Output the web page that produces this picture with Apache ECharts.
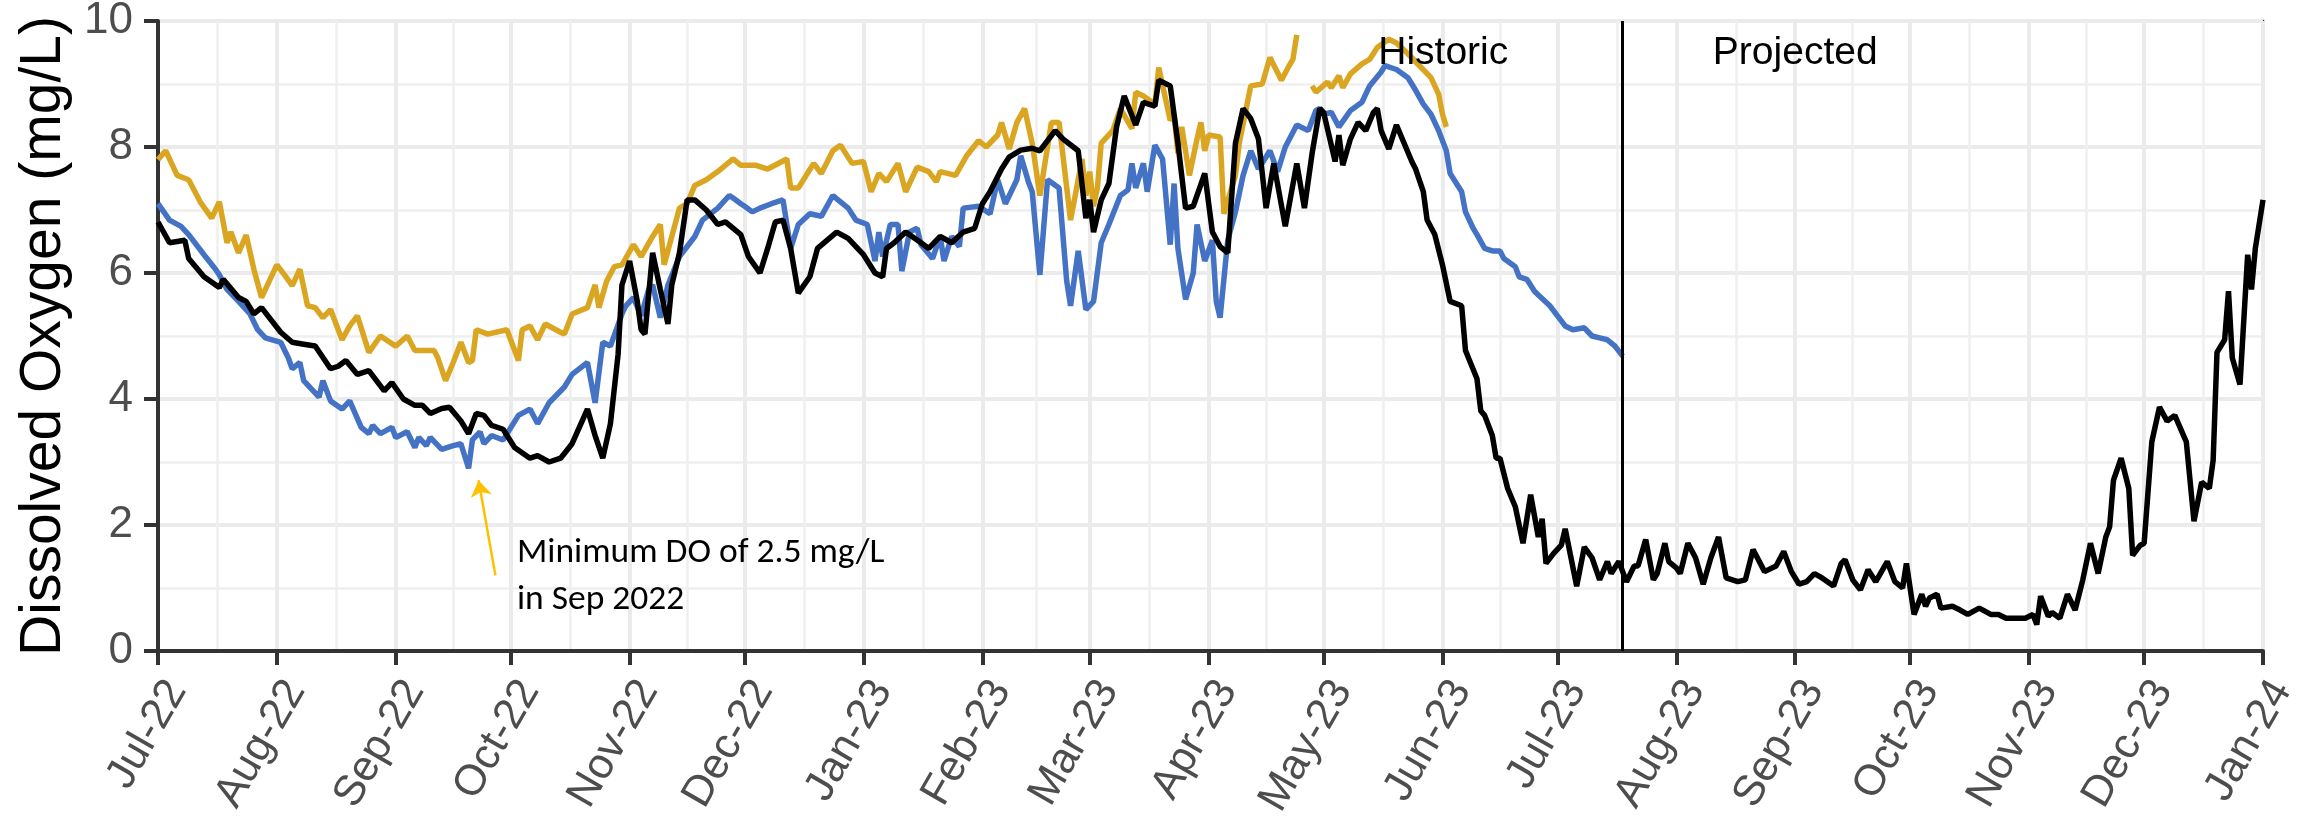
<!DOCTYPE html>
<html>
<head>
<meta charset="utf-8">
<script src="https://cdn.jsdelivr.net/npm/echarts@6/dist/echarts.min.js"></script>
<style>
  html, body { margin: 0; padding: 0; background: #fff; }
  #chart { width: 2315px; height: 823px; }
</style>
</head>
<body>
<div id="chart"></div>
<script>
  // day offsets are counted from 1 Jul 2022
  const black = [[0,6.81],[3,6.48],[7,6.52],[8,6.23],[12,5.94],[16,5.77],[17,5.9],[21,5.61],[23,5.55],[25,5.35],[27,5.45],
    [32,5.06],[35,4.9],[38,4.87],[41,4.84],[45,4.48],[47,4.52],[49,4.61],[52,4.39],[55,4.45],[59,4.13],[61,4.26],[64,4.0],
    [67,3.9],[69,3.9],[71,3.77],[74,3.85],[76,3.87],[79,3.65],[81,3.45],[83,3.77],[85,3.74],[87,3.58],[90,3.52],[93,3.23],
    [97,3.06],[99,3.1],[102,3.0],[105,3.06],[108,3.29],[112,3.84],[114,3.42],[116,3.06],[118,3.61],[120,4.71],[121,5.81],
    [123,6.19],[125,5.55],[126,5.1],[127,5.03],[129,6.32],[131,5.74],[133,5.19],[134,5.81],[136,6.32],[138,7.16],[140,7.16],
    [143,7.0],[146,6.77],[148,6.81],[152,6.61],[154,6.26],[157,6.0],[159,6.39],[161,6.81],[163,6.84],[165,6.39],[167,5.68],
    [170,5.94],[172,6.39],[177,6.65],[180,6.55],[184,6.29],[187,6.0],[189,5.94],[190,6.39],[192,6.48],[195,6.65],[199,6.48],
    [201,6.39],[204,6.58],[207,6.48],[210,6.65],[213,6.71],[215,7.1],[217,7.29],[220,7.65],[222,7.84],[225,7.95],[228,7.98],
    [230,7.94],[234,8.26],[236,8.13],[240,7.94],[242,6.87],[243,7.16],[244,6.65],[246,7.16],[248,7.42],[250,8.32],[252,8.81],
    [255,8.35],[257,8.71],[260,8.65],[261,9.06],[264,8.97],[266,8.06],[268,7.03],[270,7.06],[273,7.58],[275,6.65],[277,6.42],
    [279,6.32],[281,8.06],[283,8.61],[285,8.45],[287,8.13],[289,7.03],[291,7.74],[294,6.74],[297,7.74],[299,7.03],[301,7.9],
    [303,8.61],[304,8.55],[307,7.77],[308,8.19],[309,7.71],[311,8.13],[313,8.39],[315,8.26],[317,8.55],[318,8.61],[319,8.26],
    [321,7.97],[323,8.35],[325,8.06],[327,7.77],[328,7.65],[330,7.29],[331,6.84],[333,6.61],[335,6.13],[337,5.55],[340,5.48],
    [341,4.77],[344,4.32],[345,3.81],[346,3.74],[348,3.42],[349,3.06],[350,3.06],[352,2.58],[354,2.29],[356,1.71],[358,2.48],
    [360,1.81],[361,2.1],[362,1.39],[364,1.55],[366,1.68],[367,1.94],[370,1.03],[372,1.65],[374,1.48],[376,1.13],[378,1.42],
    [379,1.23],[381,1.42],[382,1.26],[383,1.1],[385,1.35],[386,1.35],[388,1.77],[390,1.13],[391,1.23],[393,1.71],[394,1.42],
    [396,1.32],[397,1.23],[399,1.71],[401,1.48],[403,1.06],[405,1.48],[407,1.81],[409,1.16],[412,1.1],[414,1.13],[416,1.61],
    [419,1.26],[422,1.35],[424,1.58],[426,1.26],[428,1.06],[430,1.1],[432,1.23],[434,1.16],[437,1.03],[439,1.39],[440,1.45],
    [442,1.13],[444,0.97],[446,1.29],[448,1.1],[451,1.42],[453,1.1],[455,1.0],[456,1.39],[458,0.58],[460,0.9],[461,0.71],
    [462,0.84],[464,0.9],[465,0.68],[468,0.71],[470,0.65],[472,0.58],[475,0.68],[478,0.58],[480,0.58],[482,0.52],[484,0.52],
    [487,0.52],[489,0.58],[490,0.42],[491,0.87],[493,0.55],[494,0.61],[496,0.52],[498,0.9],[500,0.65],[502,1.13],[504,1.71],
    [506,1.23],[508,1.81],[509,1.97],[510,2.71],[512,3.06],[514,2.58],[515,1.52],[517,1.68],[518,1.71],[520,3.32],[522,3.87],
    [524,3.65],[526,3.74],[529,3.32],[531,2.06],[533,2.68],[535,2.58],[536,3.03],[537,4.74],[539,4.94],[540,5.71],[541,4.65],
    [543,4.23],[545,6.29],[546,5.74],[547,6.39],[549,7.16]];

  const blue = [[0,7.1],[3,6.84],[6,6.74],[8,6.61],[12,6.29],[15,6.06],[16,5.97],[18,5.74],[21,5.55],[24,5.35],[26,5.1],
    [28,4.97],[32,4.9],[34,4.65],[35,4.48],[37,4.58],[38,4.29],[42,4.03],[43,4.29],[45,3.97],[48,3.84],[50,3.97],[53,3.55],
    [55,3.45],[56,3.58],[58,3.45],[61,3.55],[62,3.39],[65,3.48],[67,3.23],[68,3.39],[70,3.26],[71,3.39],[74,3.2],[77,3.26],
    [79,3.29],[81,2.9],[82,3.35],[84,3.48],[85,3.29],[87,3.42],[90,3.35],[94,3.74],[97,3.84],[99,3.61],[102,3.94],[106,4.19],
    [108,4.39],[112,4.58],[114,3.94],[116,4.9],[118,4.84],[121,5.35],[122,5.48],[124,5.61],[126,5.32],[128,5.74],[129,5.81],
    [131,5.29],[133,5.81],[136,6.26],[140,6.58],[142,6.84],[146,7.03],[149,7.23],[150,7.19],[152,7.1],[153,7.06],[155,6.97],
    [157,7.03],[160,7.1],[163,7.16],[165,6.39],[167,6.77],[170,6.94],[173,6.9],[176,7.23],[180,7.03],[182,6.84],[185,6.77],
    [187,6.19],[188,6.65],[189,6.26],[191,6.77],[193,6.77],[194,6.03],[196,6.65],[198,6.71],[199,6.45],[202,6.23],[204,6.58],
    [205,6.19],[207,6.58],[209,6.42],[210,7.03],[214,7.06],[217,6.94],[219,7.48],[221,7.1],[224,7.48],[225,7.86],[227,7.45],
    [228,7.29],[230,5.97],[232,7.48],[235,7.35],[237,5.87],[238,5.48],[240,6.35],[242,5.42],[244,5.55],[246,6.48],[248,6.77],
    [251,7.23],[253,7.32],[254,7.74],[255,7.35],[257,7.74],[258,7.29],[260,8.03],[262,7.81],[264,6.45],[265,7.42],[266,6.39],
    [268,5.58],[270,6.0],[271,6.77],[273,6.19],[275,6.52],[276,5.55],[277,5.29],[279,6.52],[281,6.97],[283,7.55],[285,7.94],
    [287,7.65],[290,7.94],[292,7.61],[294,8.0],[297,8.35],[300,8.26],[302,8.58],[303,8.61],[304,8.52],[306,8.55],[308,8.32],
    [311,8.58],[314,8.71],[316,8.97],[319,9.19],[320,9.29],[323,9.23],[326,9.1],[328,8.9],[330,8.68],[332,8.52],[334,8.26],
    [336,7.94],[337,7.58],[340,7.29],[341,6.97],[343,6.71],[344,6.61],[346,6.39],[348,6.35],[350,6.35],[351,6.23],[354,6.1],
    [355,5.94],[357,5.9],[359,5.71],[360,5.65],[363,5.48],[365,5.32],[367,5.16],[369,5.1],[372,5.13],[374,5.0],[376,4.97],
    [378,4.94],[380,4.84],[382,4.68]];

  const gold = [[0,7.8],[2,7.94],[5,7.55],[8,7.48],[11,7.13],[14,6.87],[16,7.13],[18,6.48],[19,6.65],[21,6.32],[23,6.6],
    [25,6.06],[27,5.61],[31,6.13],[33,5.97],[35,5.8],[37,6.06],[39,5.48],[41,5.45],[43,5.29],[45,5.42],[48,4.94],[50,5.16],
    [52,5.32],[55,4.74],[58,5.0],[62,4.84],[65,5.0],[67,4.77],[72,4.77],[73,4.65],[75,4.29],[77,4.58],[79,4.9],[81,4.58],
    [82,4.61],[83,5.1],[86,5.03],[91,5.1],[94,4.61],[95,5.1],[97,5.16],[99,4.94],[101,5.19],[105,5.06],[106,5.03],[108,5.35],
    [112,5.45],[114,5.81],[115,5.45],[117,5.87],[119,6.1],[121,6.13],[124,6.45],[126,6.26],[129,6.58],[131,6.77],[132,6.13],
    [136,7.03],[138,7.1],[140,7.39],[143,7.48],[146,7.61],[150,7.81],[152,7.71],[153,7.71],[156,7.71],[159,7.65],[164,7.81],
    [165,7.35],[167,7.35],[171,7.74],[173,7.58],[176,7.94],[178,8.03],[181,7.74],[184,7.77],[186,7.29],[188,7.58],[190,7.45],
    [193,7.74],[195,7.29],[198,7.68],[201,7.61],[203,7.45],[204,7.61],[208,7.55],[211,7.87],[214,8.1],[216,8.0],[219,8.19],
    [220,8.39],[222,7.97],[224,8.39],[226,8.61],[228,8.06],[230,7.23],[233,8.39],[235,8.39],[238,6.84],[239,7.16],[241,7.81],
    [242,7.23],[243,7.61],[244,7.06],[245,7.35],[246,8.06],[249,8.26],[251,8.61],[254,8.29],[255,8.87],[257,8.81],[260,8.68],
    [261,9.26],[264,8.42],[265,8.52],[266,7.9],[267,8.32],[269,7.55],[271,8.13],[272,8.39],[273,7.94],[274,8.19],[277,8.16],
    [278,6.94],[281,7.55],[282,8.06],[285,8.97],[288,9.0],[290,9.42],[293,9.06],[295,9.29],[296,9.39],[297,9.78],[299,null],
    [301,8.97],[302,8.87],[305,9.03],[306,8.94],[308,9.13],[309,8.94],[311,9.16],[314,9.32],[316,9.39],[318,9.58],[321,9.71],
    [323,9.65],[326,9.48],[329,9.29],[332,9.1],[334,8.84],[335,8.52],[336,8.32]];

  const monthNames = ['Jan','Feb','Mar','Apr','May','Jun','Jul','Aug','Sep','Oct','Nov','Dec'];
  const splitDay = 382;             // Historic | Projected
  const arrowTail = [88, 1.2];
  const arrowTip = [83.6, 2.71];
  const noteAt = [93.6, 1.18];
  const historicAt = [335.2, 9.49];
  const projectedAt = [427, 9.49];

  function toDate(d) {
    return new Date(2022, 6, 1).getTime() + d * 86400000;
  }
  function toSeries(arr) {
    return arr.map(p => [toDate(p[0]), p[1]]);
  }

  const sans = "'Liberation Sans', Arial, sans-serif";
  const axisText = { fontFamily: sans, color: '#4D4D4D' };

  const option = {
    animation: false,
    backgroundColor: '#fff',
    grid: {
      left: 158, right: 52, top: 21, bottom: 172,
      outerBoundsMode: 'none',
      containLabel: false,
      show: true, borderColor: '#333', borderWidth: 2.5, backgroundColor: '#fff'
    },
    xAxis: {
      type: 'time',
      min: new Date(2022, 6, 1).getTime(),
      max: new Date(2024, 0, 1).getTime(),
      splitNumber: 18,
      minInterval: 28 * 86400000,
      maxInterval: 31 * 86400000,
      axisLine: { show: true, onZero: false, lineStyle: { color: '#333', width: 4 } },
      axisTick: { show: true, length: 14, lineStyle: { color: '#333', width: 4 } },
      axisLabel: {
        ...axisText,
        fontSize: 43,
        rotate: 60,
        margin: 22,
        interval: 0,
        showMinLabel: true,
        showMaxLabel: true,
        hideOverlap: false,
        verticalAlign: 'top',
        formatter: function (val) {
          const dt = new Date(val);
          return monthNames[dt.getMonth()] + '-' + String(dt.getFullYear()).slice(2);
        }
      },
      splitLine: { show: true, lineStyle: { color: '#EBEBEB', width: 4 } },
      minorTick: { show: false, splitNumber: 2 },
      minorSplitLine: { show: true, lineStyle: { color: '#EFEFEF', width: 2.5 } }
    },
    yAxis: {
      type: 'value',
      min: 0, max: 10, interval: 2,
      name: 'Dissolved Oxygen (mg/L)',
      nameLocation: 'middle',
      nameGap: 84,
      nameTextStyle: { fontFamily: sans, fontSize: 57, color: '#000' },
      axisLine: { show: true, lineStyle: { color: '#333', width: 4 } },
      axisTick: { show: true, length: 14, lineStyle: { color: '#333', width: 4 } },
      axisLabel: { ...axisText, fontSize: 44, margin: 25 },
      splitLine: { show: true, lineStyle: { color: '#EBEBEB', width: 4 } },
      minorTick: { show: false, splitNumber: 2 },
      minorSplitLine: { show: true, lineStyle: { color: '#EFEFEF', width: 2.5 } }
    },
    series: [
      {
        name: 'blue', type: 'line', showSymbol: false, symbol: 'none',
        data: toSeries(blue),
        lineStyle: { color: '#4472C4', width: 5.5 }, z: 2,
        markLine: {
          silent: true, symbol: ['none', 'arrow'], symbolSize: 16,
          label: { show: false },
          lineStyle: { color: '#FFC000', width: 2.5, type: 'solid' },
          data: [[{ coord: [toDate(arrowTail[0]), arrowTail[1]] }, { coord: [toDate(arrowTip[0]), arrowTip[1]] }]]
        },
        markPoint: {
          silent: true, symbol: 'circle', symbolSize: 0,
          label: {
            show: true, position: [0, 0], align: 'left', verticalAlign: 'middle',
            fontFamily: "Carlito, 'Open Sans', sans-serif", fontSize: 35.5, lineHeight: 47, color: '#000',
            formatter: 'Minimum DO of 2.5 mg/L\nin Sep 2022'
          },
          data: [{ coord: [toDate(noteAt[0]), noteAt[1]] }]
        }
      },
      {
        name: 'gold', type: 'line', showSymbol: false, symbol: 'none', connectNulls: false,
        data: toSeries(gold),
        lineStyle: { color: '#DAA520', width: 5.5 }, z: 3
      },
      {
        name: 'black', type: 'line', showSymbol: false, symbol: 'none',
        data: toSeries(black),
        lineStyle: { color: '#000', width: 5.5 }, z: 4,
        markLine: {
          silent: true, symbol: ['none', 'none'],
          label: { show: false },
          lineStyle: { color: '#000', width: 3, type: 'solid' },
          data: [{ xAxis: toDate(splitDay) }]
        },
        markPoint: {
          silent: true, symbol: 'circle', symbolSize: 0,
          label: {
            show: true, position: [0, 0], align: 'center', verticalAlign: 'middle',
            fontFamily: sans, fontSize: 39, color: '#000',
            formatter: p => p.name
          },
          data: [
            { name: 'Historic', coord: [toDate(historicAt[0]), historicAt[1]] },
            { name: 'Projected', coord: [toDate(projectedAt[0]), projectedAt[1]] }
          ]
        }
      }
    ]
  };

  const myChart = echarts.init(document.getElementById('chart'));
  myChart.setOption(option);
</script>
</body>
</html>
